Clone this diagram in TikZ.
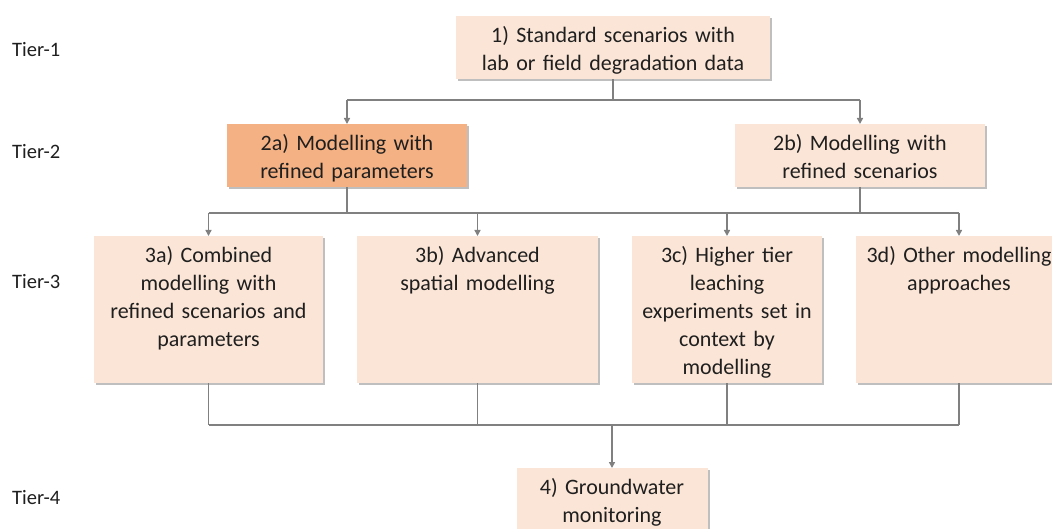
\documentclass[tikz,border=0pt]{standalone}
\usepackage{fontspec}
\setmainfont{Carlito}
\usepackage{tikz}
\usetikzlibrary{arrows.meta,shadows}

\definecolor{peach}{HTML}{FBE5D6}
\definecolor{apricot}{HTML}{F4B183}
\definecolor{linegray}{HTML}{808080}
\definecolor{textgray}{HTML}{1F1F1F}

\begin{document}
\begin{tikzpicture}[x=1pt,y=-1pt,
  tierbox/.style={anchor=north, fill=peach, inner sep=0pt, align=center,
    text=textgray, font=\fontsize{22}{28}\selectfont, text height=26pt,
    drop shadow={shadow xshift=2pt,shadow yshift=-2pt,fill=black,opacity=0.25}},
  tierlabel/.style={anchor=west, inner sep=0pt, text=textgray, font=\fontsize{20.5}{24}\selectfont},
  link/.style={draw=linegray, line width=1.5pt},
  linkarrow/.style={link, -{Triangle[length=6pt,width=6pt]}}]
% Tiers of groundwater assessment
\clip (0,0) rectangle (1052,529);
\fill[white] (0,0) rectangle (1052,529);
\node[tierlabel] (tier1) at (12,50) {Tier-1};
\node[tierlabel] (tier2) at (12,152) {Tier-2};
\node[tierlabel] (tier3) at (12,282) {Tier-3};
\node[tierlabel] (tier4) at (12,498) {Tier-4};
\node[tierbox, text width=314pt, text depth=37pt] (t1) at (613,16) {1) Standard scenarios with\\lab or field degradation data};
\node[tierbox, fill=apricot, text width=240pt, text depth=37pt] (t2a) at (347,124) {2a) Modelling with\\refined parameters};
\node[tierbox, text width=250pt, text depth=37pt] (t2b) at (860,124) {2b) Modelling with\\refined scenarios};
\node[tierbox, text width=229pt, text depth=121pt] (t3a) at (208.5,236) {3a) Combined\\modelling with\\refined scenarios and\\parameters};
\node[tierbox, text width=241pt, text depth=121pt] (t3b) at (477.5,236) {3b) Advanced\\spatial modelling};
\node[tierbox, text width=190pt, text depth=121pt] (t3c) at (727,236) {3c) Higher tier\\leaching\\experiments set in\\context by\\modelling};
\node[tierbox, text width=206pt, text depth=121pt] (t3d) at (959,236) {3d) Other modelling\\approaches};
\node[tierbox, text width=191pt, text depth=41pt] (t4) at (612,468) {4) Groundwater\\monitoring};
\coordinate (bar1) at (0,100);
\coordinate (bar2) at (0,213);
\coordinate (bar3) at (0,425);
% tier 1 to tier 2
\draw[link] (t1.south) -- (t1.south |- bar1);
\draw[link] (t2a.north |- bar1) -- (t2b.north |- bar1);
\draw[linkarrow] (t2a.north |- bar1) -- (t2a.north);
\draw[linkarrow] (t2b.north |- bar1) -- (t2b.north);
% tier 2 to tier 3
\draw[link] (t2a.south) -- (t2a.south |- bar2);
\draw[link] (t2b.south) -- (t2b.south |- bar2);
\draw[link] (t3a.north |- bar2) -- (t3d.north |- bar2);
\foreach \n in {t3a,t3b,t3c,t3d}
  \draw[linkarrow] (\n.north |- bar2) -- (\n.north);
% tier 3 to tier 4
\foreach \n in {t3a,t3b,t3c,t3d}
  \draw[link] (\n.south) -- (\n.south |- bar3);
\draw[link] (t3a.south |- bar3) -- (t3d.south |- bar3);
\draw[linkarrow] (t4.north |- bar3) -- (t4.north);
\end{tikzpicture}
\end{document}
